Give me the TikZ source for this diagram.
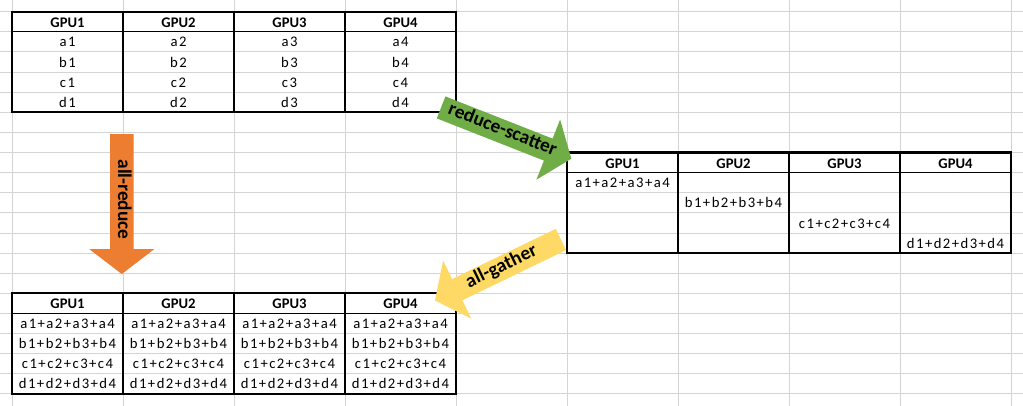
\documentclass[tikz,border=0pt]{standalone}
\usepackage{fontspec}
\setmainfont{Carlito}
\newfontfamily\cellfont[LetterSpace=10]{Carlito}
\usetikzlibrary{shapes.arrows}

\definecolor{gridgray}{RGB}{212,212,212}
\definecolor{rsgreen}{RGB}{112,173,71}
\definecolor{arorange}{RGB}{237,125,49}
\definecolor{aggold}{RGB}{255,217,102}

\begin{document}
\begin{tikzpicture}[x=0.75pt,y=-0.75pt]

            \tikzstyle{gridline}=[draw=gridgray,line width=0.75pt]
            \tikzstyle{head}=[font=\fontsize{11}{13}\selectfont\bfseries,anchor=base,inner sep=0pt]
            \tikzstyle{cell}=[font=\fontsize{11}{13}\cellfont,anchor=base,inner sep=0pt]
            \tikzstyle{frame}=[line width=1.5pt]
            \tikzstyle{colline}=[line width=1.2pt]
            \tikzstyle{headline}=[line width=0.75pt]
            \tikzstyle{opbox}=[single arrow,draw=none,font=\fontsize{14.5}{16}\selectfont\bfseries,
                text height=8pt,text depth=2.5pt,inner xsep=2pt,inner ysep=3.4pt,minimum height=105pt,
                single arrow head extend=15.4pt,single arrow tip angle=105]

            \useasboundingbox (0,0) rectangle (1023,406);

            % sheet grid
            \foreach \i in {0,...,9} \draw[gridline] (12+111*\i,0) -- (12+111*\i,406);
            \foreach \j in {0,...,19} \draw[gridline] (0,11.7+20.12*\j) -- (1023,11.7+20.12*\j);

            % table before
            \foreach \c in {1,...,4}
                \node[head] (inh\c) at (-43.5+111*\c,27.1) {GPU\c};
            \foreach \r/\l in {1/a,2/b,3/c,4/d}
                \foreach \c in {1,...,4}
                    \node[cell] (in\l\c) at (-43.5+111*\c,26.8+20.12*\r) {\l\c};
            \draw[frame] (12,11.7) rectangle (456,112.3);
            \foreach \c in {1,2,3} \draw[colline] (12+111*\c,11.7) -- (12+111*\c,112.3);
            \draw[headline] (12,31.8) -- (456,31.8);

            % table after reduce-scatter
            \foreach \c in {1,...,4}
                \node[head] (rsh\c) at (511.5+111*\c,168) {GPU\c};
            \foreach \r/\l in {1/a,2/b,3/c,4/d}
                \node[cell] (rs\l) at (511.5+111*\r,167.7+20.12*\r) {\l1+\l2+\l3+\l4};
            \draw[frame] (567,152.5) rectangle (1011,253.1);
            \foreach \c in {1,2,3} \draw[colline] (567+111*\c,152.5) -- (567+111*\c,253.1);
            \draw[headline] (567,172.6) -- (1011,172.6);

            % table after all-reduce / all-gather
            \foreach \c in {1,...,4}
                \node[head] (arh\c) at (-43.5+111*\c,308.8) {GPU\c};
            \foreach \r/\l in {1/a,2/b,3/c,4/d}
                \foreach \c in {1,...,4}
                    \node[cell] (ar\l\c) at (-43.5+111*\c,308.5+20.12*\r) {\l1+\l2+\l3+\l4};
            \draw[frame] (12,293.4) rectangle (456,394);
            \foreach \c in {1,2,3} \draw[colline] (12+111*\c,293.4) -- (12+111*\c,394);
            \draw[headline] (12,313.5) -- (456,313.5);

            % operations
            \node[opbox,fill=rsgreen,rotate=-21.5] (rsop) at (502,131.4) {reduce-scatter};
            \node[opbox,fill=arorange,rotate=-90] (arop) at (121.8,199.5) {all-reduce};
            \node[opbox,fill=aggold,rotate=25.8,shape border rotate=180] (agop) at (502,268) {all-gather};
        \end{tikzpicture}
\end{document}
